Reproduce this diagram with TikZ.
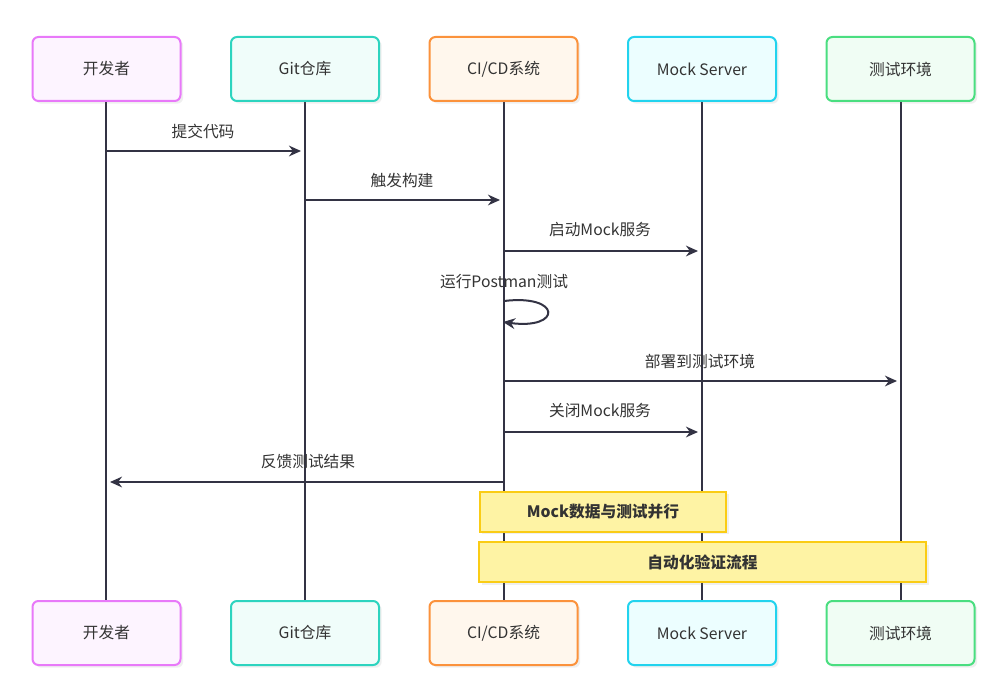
\documentclass[tikz,border=0pt]{standalone}
\usepackage{fontspec}
\setmainfont{Noto Sans CJK SC}
\usetikzlibrary{arrows.meta,shadows}
\definecolor{ink}{HTML}{333344}
\definecolor{txt}{HTML}{333333}
\definecolor{pkB}{HTML}{E879F9}\definecolor{pkF}{HTML}{FDF4FF}
\definecolor{tlB}{HTML}{2DD4BF}\definecolor{tlF}{HTML}{F0FDFA}
\definecolor{orB}{HTML}{FB923C}\definecolor{orF}{HTML}{FFF7ED}
\definecolor{cyB}{HTML}{22D3EE}\definecolor{cyF}{HTML}{ECFEFF}
\definecolor{grB}{HTML}{4ADE80}\definecolor{grF}{HTML}{F0FDF4}
\definecolor{ntB}{HTML}{FACC15}\definecolor{ntF}{HTML}{FEF3A4}
\tikzset{
  actor/.style={draw=#1, line width=1.5pt, rounded corners=4.5pt, minimum width=111pt, minimum height=48pt,
     font=\fontsize{11.8}{13}\selectfont, text=txt, drop shadow={shadow xshift=2pt, shadow yshift=-2pt, opacity=0.12}},
  life/.style={ink, line width=1.5pt},
  msg/.style={ink, line width=1.5pt, -{Stealth[length=9pt,width=8pt]}},
  lbl/.style={font=\fontsize{11.8}{13}\selectfont, text=txt},
  notebox/.style={draw=ntB, fill=ntF, line width=1.5pt, font=\bfseries\fontsize{11.8}{13}\selectfont, text=txt,
     drop shadow={shadow xshift=2pt, shadow yshift=-2pt, opacity=0.12}}
}
\begin{document}
\begin{tikzpicture}[x=0.75pt,y=-0.75pt]
\useasboundingbox (0,0) rectangle (1000,699);
\fill[white] (0,0) rectangle (1000,699);
% lifelines
\foreach \x/\n in {106/a,305/b,504/c,702/d,901/e}{
  \coordinate (\n t) at (\x,101);
  \coordinate (\n b) at (\x,601);
  \draw[life] (\n t) -- (\n b);
}
% top actors
\node[actor=pkB, fill=pkF] (A1) at (106.5,69) {开发者};
\node[actor=tlB, fill=tlF] (B1) at (305,69) {Git仓库};
\node[actor=orB, fill=orF] (C1) at (503.5,69) {CI/CD系统};
\node[actor=cyB, fill=cyF] (D1) at (702,69) {Mock Server};
\node[actor=grB, fill=grF] (E1) at (900.5,69) {测试环境};
% bottom actors
\node[actor=pkB, fill=pkF] (A2) at (106.5,633) {开发者};
\node[actor=tlB, fill=tlF] (B2) at (305,633) {Git仓库};
\node[actor=orB, fill=orF] (C2) at (503.5,633) {CI/CD系统};
\node[actor=cyB, fill=cyF] (D2) at (702,633) {Mock Server};
\node[actor=grB, fill=grF] (E2) at (900.5,633) {测试环境};
% messages
\coordinate (m1s) at (106,151); \coordinate (m1e) at (301,151);
\draw[msg] (m1s) -- (m1e);
\node[lbl] (l1) at (203,131) {提交代码};
\coordinate (m2s) at (305,200); \coordinate (m2e) at (500,200);
\draw[msg] (m2s) -- (m2e);
\node[lbl] (l2) at (402,181) {触发构建};
\coordinate (m3s) at (504,251); \coordinate (m3e) at (698,251);
\draw[msg] (m3s) -- (m3e);
\node[lbl] (l3) at (600,230) {启动Mock服务};
\coordinate (m4s) at (504,301); \coordinate (m4e) at (503,322);
\draw[msg] (m4s) .. controls (562,294) and (562,330) .. (m4e);
\node[lbl] (l4) at (504,282) {运行Postman测试};
\coordinate (m5s) at (504,381); \coordinate (m5e) at (897,381);
\draw[msg] (m5s) -- (m5e);
\node[lbl] (l5) at (700,361) {部署到测试环境};
\coordinate (m6s) at (504,432); \coordinate (m6e) at (698,432);
\draw[msg] (m6s) -- (m6e);
\node[lbl] (l6) at (600,411) {关闭Mock服务};
\coordinate (m7s) at (504,482); \coordinate (m7e) at (110,482);
\draw[msg] (m7s) -- (m7e);
\node[lbl] (l7) at (308,462) {反馈测试结果};
% notes
\node[notebox, minimum width=185pt, minimum height=30pt] (n1) at (603,511.5) {Mock数据与测试并行};
\node[notebox, minimum width=335pt, minimum height=30pt] (n2) at (702.5,562) {自动化验证流程};
\end{tikzpicture}
\end{document}
